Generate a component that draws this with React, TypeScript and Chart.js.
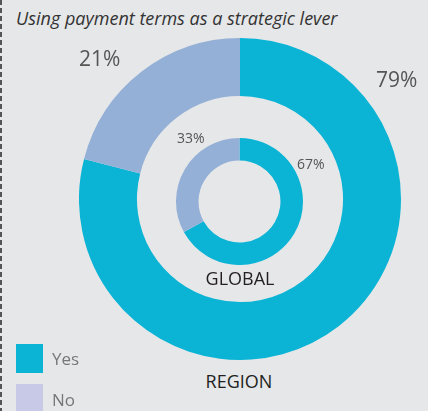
import React, { useEffect, useRef } from 'react';
import { Chart, registerables } from 'chart.js';

Chart.register(...registerables);

const categories = ['Yes', 'No'];
const regionValues = [79, 21];
const globalValues = [67, 33];
const ringNames = ['REGION', 'GLOBAL'];
const sliceColors = ['#0BB4D5', '#94B0D6'];
const legendColors = ['#0BB4D5', '#C8C9E6'];
const titleText = 'Using payment terms as a strategic lever';

const FONT = '"Open Sans", "Noto Sans", sans-serif';

function makeDoughnut(canvas: HTMLCanvasElement, values: number[], cutout: string) {
  return new Chart(canvas, {
    type: 'doughnut',
    data: {
      labels: categories,
      datasets: [
        {
          data: values,
          backgroundColor: sliceColors,
          borderWidth: 0,
          hoverOffset: 0,
        },
      ],
    },
    options: {
      responsive: false,
      animation: false,
      cutout,
      layout: { padding: 0 },
      plugins: {
        legend: { display: false },
        tooltip: { enabled: false },
        title: { display: false },
      },
      events: [],
    },
  });
}

export default function App() {
  const outerRef = useRef<HTMLCanvasElement>(null);
  const innerRef = useRef<HTMLCanvasElement>(null);

  useEffect(() => {
    document.body.style.margin = '0';
    const c1 = makeDoughnut(outerRef.current!, regionValues, '64%');
    const c2 = makeDoughnut(innerRef.current!, globalValues, '64.5%');
    return () => {
      c1.destroy();
      c2.destroy();
    };
  }, []);

  const pct = (v: number) => `${v}%`;

  const abs = (extra: React.CSSProperties): React.CSSProperties => ({
    position: 'absolute',
    lineHeight: 1,
    whiteSpace: 'nowrap',
    fontFamily: FONT,
    ...extra,
  });

  return (
    <div
      style={{
        position: 'relative',
        width: 428,
        height: 411,
        background: '#E6E7E9',
        overflow: 'hidden',
        fontFamily: FONT,
      }}
    >
      <div
        style={{
          position: 'absolute',
          left: 0,
          top: 0,
          width: 2,
          height: 411,
          background: 'repeating-linear-gradient(to bottom, #555 0px, #555 5px, transparent 5px, transparent 8px)',
        }}
      />
      <div style={abs({ left: 16, top: 9.4, fontSize: 18, fontStyle: 'italic', color: '#333' })}>{titleText}</div>

      <canvas
        ref={outerRef}
        width={322}
        height={322}
        style={{ position: 'absolute', left: 79, top: 38, width: 322, height: 322 }}
      />
      <canvas
        ref={innerRef}
        width={127}
        height={127}
        style={{ position: 'absolute', left: 176, top: 138, width: 127, height: 127 }}
      />

      <div style={abs({ left: 79, top: 48.3, fontSize: 21, color: '#555' })}>{pct(regionValues[1])}</div>
      <div style={abs({ left: 376, top: 69.3, fontSize: 21, color: '#555' })}>{pct(regionValues[0])}</div>
      <div style={abs({ left: 177, top: 130.6, fontSize: 14, color: '#555' })}>{pct(globalValues[1])}</div>
      <div style={abs({ left: 297, top: 156.6, fontSize: 14, color: '#555' })}>{pct(globalValues[0])}</div>

      <div style={abs({ left: 140, width: 200, textAlign: 'center', top: 268.9, fontSize: 18, color: '#231F20' })}>
        {ringNames[1]}
      </div>
      <div style={abs({ left: 139, width: 200, textAlign: 'center', top: 371.9, fontSize: 18, color: '#231F20' })}>
        {ringNames[0]}
      </div>

      {categories.map((c, i) => (
        <React.Fragment key={c}>
          <div
            style={{
              position: 'absolute',
              left: 16,
              top: 344 + i * 40,
              width: 27,
              height: 29,
              background: legendColors[i],
            }}
          />
          <div style={abs({ left: 52, top: 350 + i * 41, fontSize: 17, color: '#777' })}>{c}</div>
        </React.Fragment>
      ))}
    </div>
  );
}
